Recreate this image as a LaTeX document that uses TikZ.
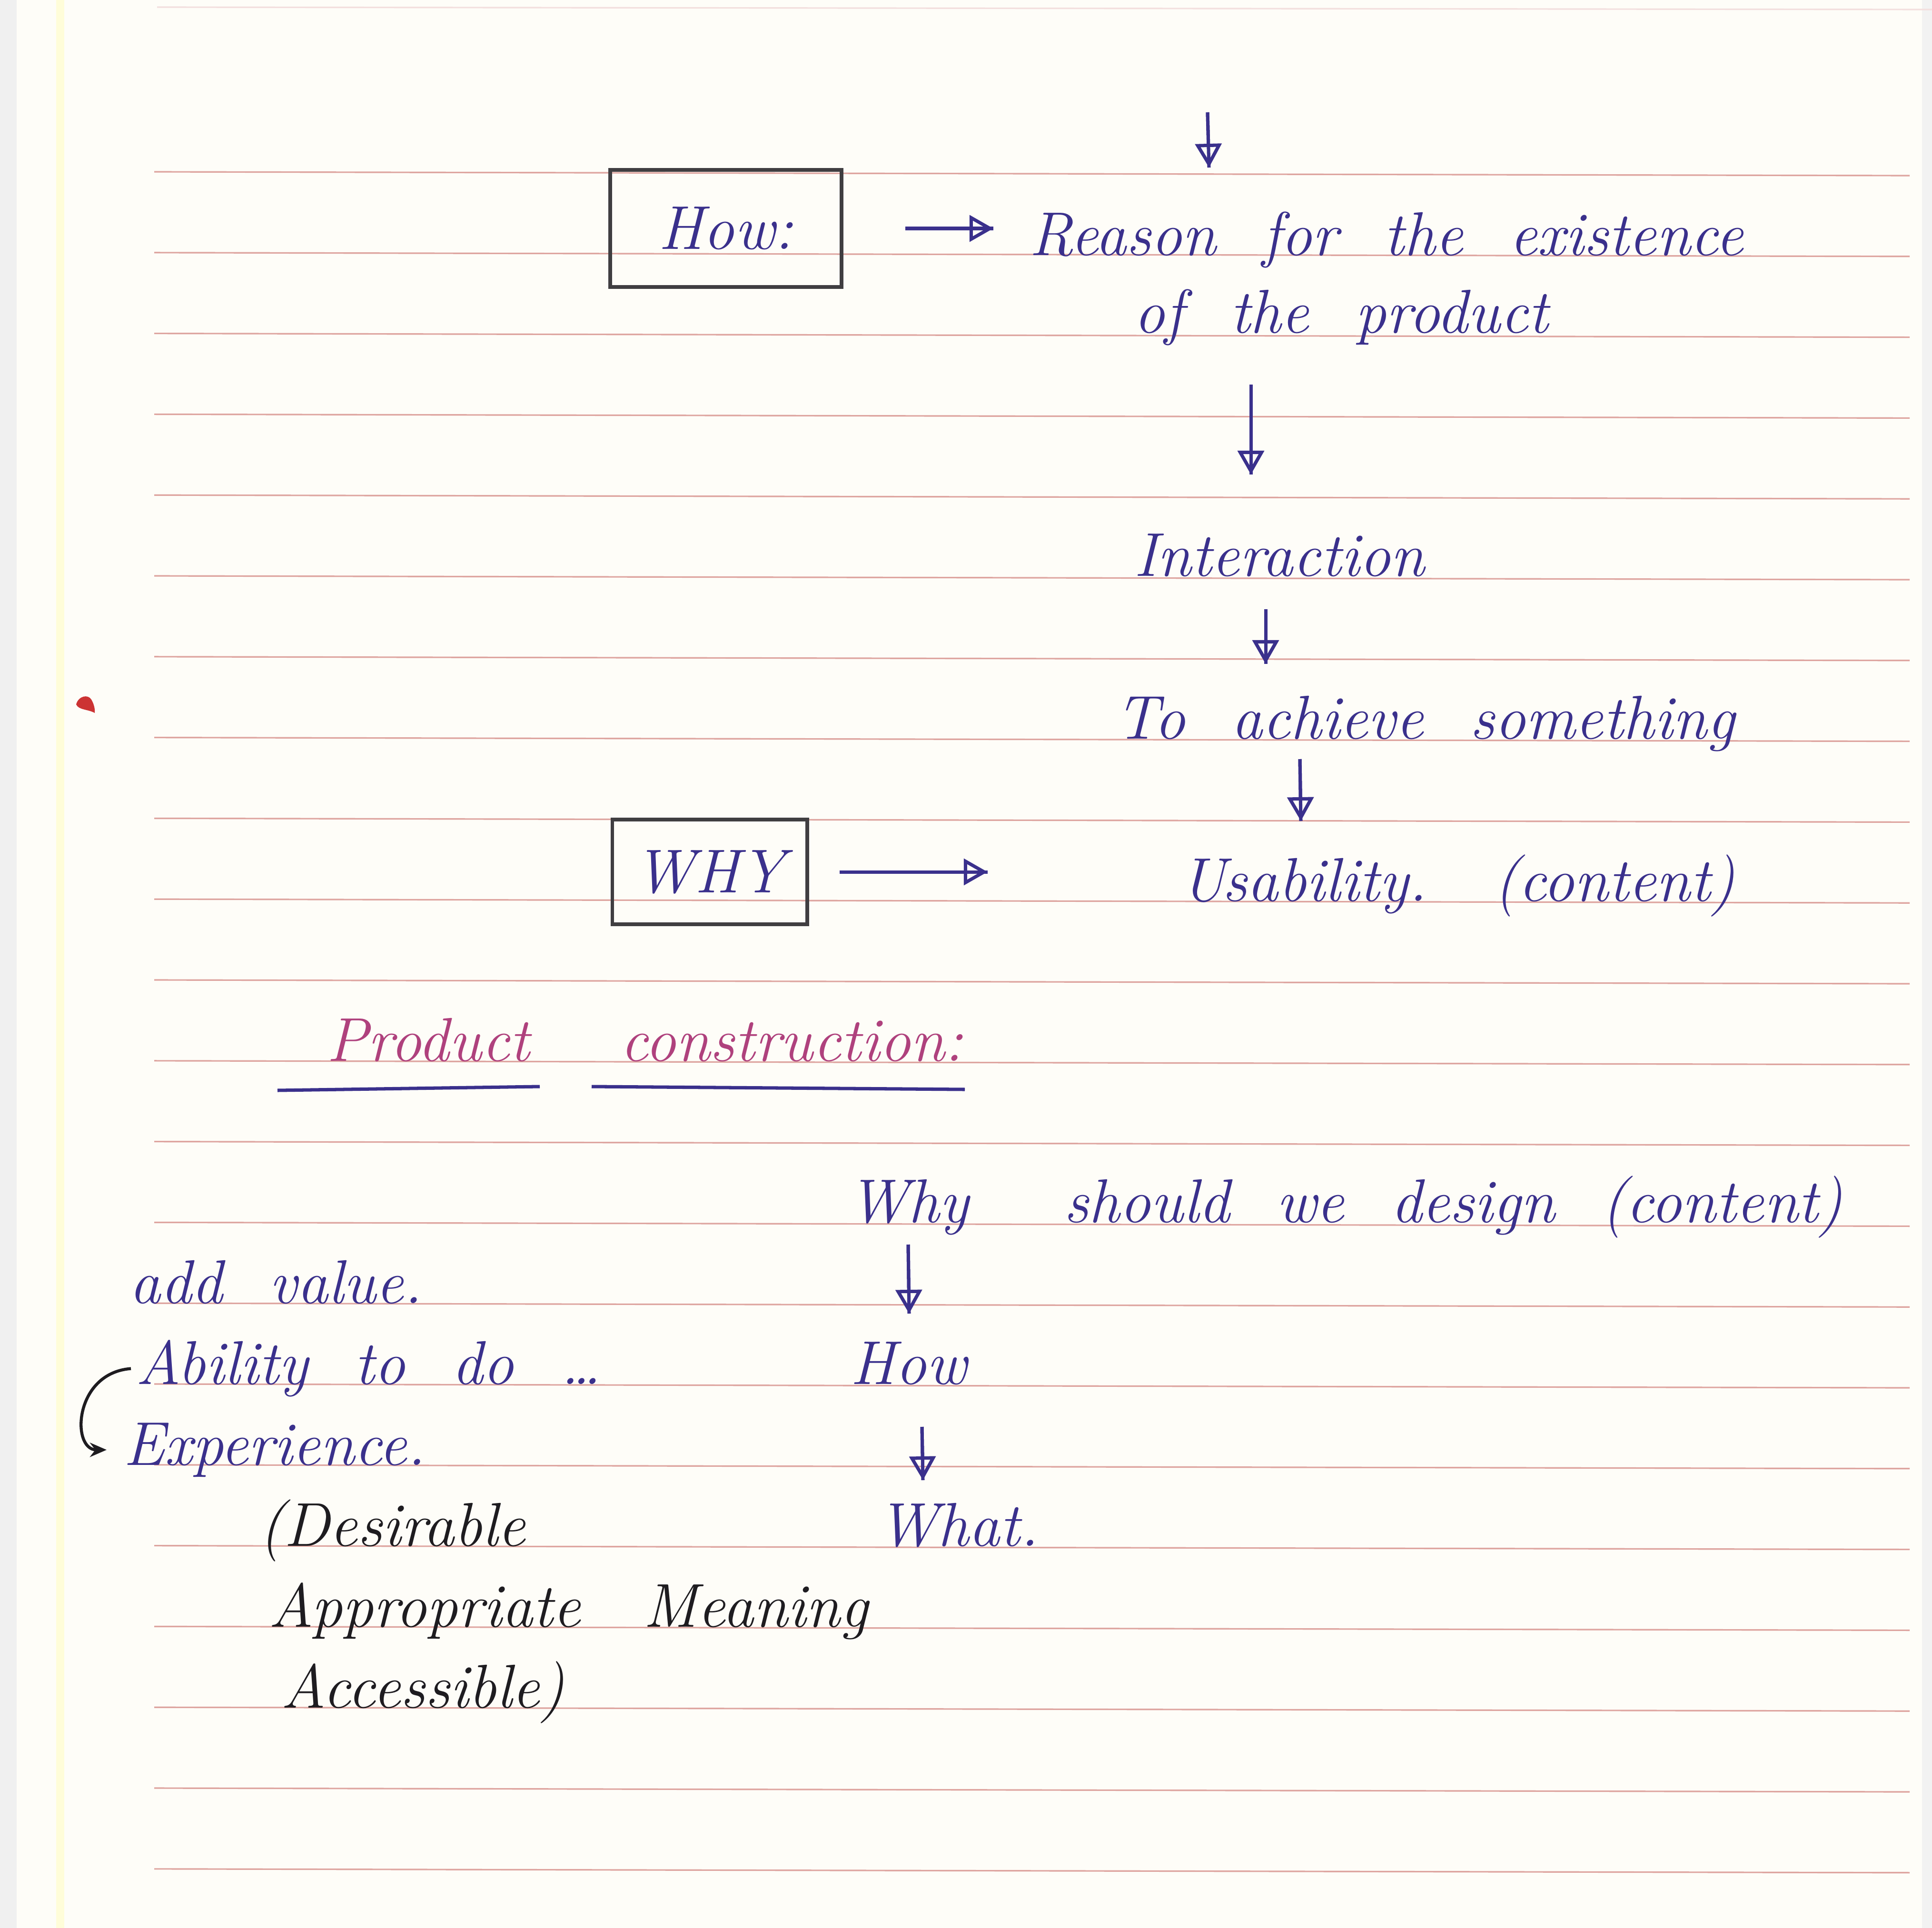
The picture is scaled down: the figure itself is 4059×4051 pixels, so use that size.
\documentclass[tikz,border=0pt]{standalone}
\usepackage{xcolor}
\usepackage{tikz}
\usetikzlibrary{arrows.meta}

\definecolor{tinta}{RGB}{58,48,140}
\definecolor{negro}{RGB}{30,28,32}
\definecolor{rosa}{RGB}{175,65,125}
\definecolor{renglon}{RGB}{222,165,160}
\definecolor{papel}{RGB}{254,253,248}
\newcommand{\espacio}{\setlength{\spaceskip}{0.75em}}

\begin{document}
\begin{tikzpicture}[
  x=0.01cm, y=-0.01cm,
  texto/.style={inner sep=0pt, anchor=base west, text=tinta, font=\fontsize{37}{44}\selectfont\itshape, execute at begin node=\espacio},
  negra/.style={texto, text=negro},
  caja/.style={draw=negro!85, line width=2.2pt, text=tinta, font=\fontsize{37}{44}\selectfont\itshape},
  flecha/.style={draw=tinta, line width=2pt, -{Triangle[open, length=0.5cm, width=0.55cm]}, postaction={draw=tinta, arrows=-}},
  linea/.style={draw=renglon, line width=0.9pt}
]
  \useasboundingbox (0,0) rectangle (4059,4051);
  \fill[papel] (0,0) rectangle (4059,4051);
  \fill[black!6] (0,0) rectangle (35,4051);
  \fill[yellow!15] (118,0) rectangle (135,4051);
  \fill[black!5] (4038,0) rectangle (4059,4051);
  \draw[linea, draw=renglon!35] (330,15) -- (4059,20);
  \foreach \k in {0,...,21}
    \draw[linea] (324,{361+169.8*\k}) -- (4012,{369+169.8*\k});
  \fill[red!75!black!80] (160,1480) .. controls (165,1462) and (185,1458) .. (192,1470)
    .. controls (198,1480) and (200,1492) .. (199,1498) .. controls (185,1490) and (165,1492) .. cycle;

  \node[caja, minimum width=4.86cm, minimum height=2.46cm] (how) at (1525,480) {How:};
  \node[caja, minimum width=4.09cm, minimum height=2.2cm]  (why) at (1491,1832) {WHY};

  \node[texto] (razon)       at (2162,536)  {Reason for the existence};
  \node[texto] (producto)    at (2382,699)  {of the product};
  \node[texto] (interaccion) at (2382,1210) {Interaction};
  \node[texto] (lograr)      at (2343,1552) {To achieve something};
  \node[texto] (usabilidad)  at (2480,1893) {Usability.\hspace{1.4cm}(content)};
  \node[texto, text=rosa] (titulo) at (686,2229) {Product\hspace{1.9cm}construction:};
  \node[texto] (porque)      at (1781,2568) {Why\hspace{2cm}should we design (content)};
  \node[texto] (como)        at (1786,2908) {How};
  \node[texto] (que)         at (1843,3248) {What.};
  \node[texto] (valor)       at (272,2738)  {add value.};
  \node[texto] (habilidad)   at (285,2908)  {Ability to do \dots};
  \node[texto] (experiencia) at (259,3078)  {Experience.};
  \node[negra] (deseable)    at (544,3248)  {(Desirable};
  \node[negra] (apropiado)   at (564,3418)  {Appropriate};
  \node[negra] (significado) at (1351,3418) {Meaning};
  \node[negra] (accesible)   at (590,3588)  {Accessible)};

  \coordinate (f0a) at (2537,236);  \coordinate (f0b) at (2540,352);
  \coordinate (f1a) at (2628,808);  \coordinate (f1b) at (2628,997);
  \coordinate (f2a) at (2659,1280); \coordinate (f2b) at (2659,1395);
  \coordinate (f3a) at (2731,1595); \coordinate (f3b) at (2733,1725);
  \coordinate (f4a) at (1908,2615); \coordinate (f4b) at (1910,2760);
  \coordinate (f5a) at (1937,2998); \coordinate (f5b) at (1939,3110);

  \draw[flecha] (f0a) -- (f0b);
  \draw[flecha] (f1a) -- (f1b);
  \draw[flecha] (f2a) -- (f2b);
  \draw[flecha] (f3a) -- (f3b);
  \draw[flecha] (f4a) -- (f4b);
  \draw[flecha] (f5a) -- (f5b);
  \draw[flecha, shorten <=1.3cm, shorten >=0.75cm] (how.east) -- (how.east -| razon.west);
  \draw[flecha, shorten <=0.64cm, shorten >=4.05cm] (why.east) -- (why.east -| usabilidad.west);

  \draw[tinta, line width=2pt] (583,2291) -- (1134,2283) (1243,2283) -- (2027,2289);

  \draw[negro, line width=1.8pt, shorten <=0.1cm, shorten >=0.35cm, -{Stealth[length=0.35cm, width=0.3cm]}]
    (habilidad.west) .. controls +(-130,10) and +(-110,0) .. (experiencia.west);
\end{tikzpicture}
\end{document}
